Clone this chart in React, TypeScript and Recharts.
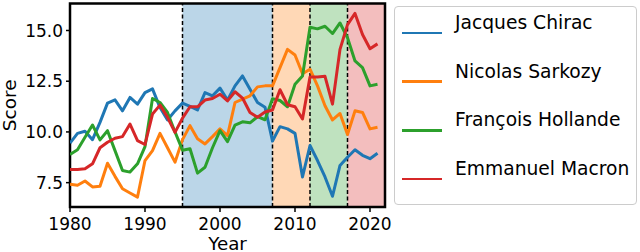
import {
  LineChart,
  Line,
  XAxis,
  YAxis,
  ReferenceArea,
  ReferenceLine,
  Legend,
} from 'recharts';

const years = [
  1980, 1981, 1982, 1983, 1984, 1985, 1986, 1987, 1988, 1989,
  1990, 1991, 1992, 1993, 1994, 1995, 1996, 1997, 1998, 1999,
  2000, 2001, 2002, 2003, 2004, 2005, 2006, 2007, 2008, 2009,
  2010, 2011, 2012, 2013, 2014, 2015, 2016, 2017, 2018, 2019,
  2020, 2021,
];

const chirac = [
  9.45, 9.93, 10.03, 9.62, 10.47, 11.42, 11.58, 11.04, 11.7, 11.37,
  11.94, 12.12, 11.2, 10.59, 11.04, 11.42, 11.26, 11.08, 11.94, 11.78,
  12.16, 11.57, 12.27, 12.76, 12.1, 11.45, 11.22, 9.55, 10.26, 10.15,
  9.93, 7.78, 9.33, 8.59, 7.78, 6.83, 8.35, 8.75, 9.12, 8.85,
  8.68, 8.95,
];

const sarkozy = [
  7.42, 7.37, 7.58, 7.29, 7.32, 8.46, 7.81, 7.2, 6.99, 6.79,
  8.59, 9.08, 9.93, 9.22, 8.51, 9.62, 10.31, 9.66, 9.41, 9.77,
  10.15, 9.82, 11.45, 11.62, 11.78, 12.22, 12.27, 12.27, 13.17, 14.07,
  13.79, 12.87, 13.09, 12.27, 11.29, 10.59, 10.91, 9.87, 11.04, 10.96,
  10.15, 10.23,
];

const hollande = [
  8.89, 9.12, 9.74, 10.34, 9.61, 10.06, 9.08, 8.1, 8.02, 8.43,
  9.28, 11.65, 11.45, 10.96, 10.0, 9.1, 9.17, 7.97, 8.26, 9.22,
  10.06, 9.52, 10.34, 10.5, 10.45, 10.75, 10.6, 11.64, 11.55, 11.24,
  12.35, 12.76, 15.16, 15.08, 15.21, 14.85, 15.37, 14.64, 13.5, 13.17,
  12.27, 12.35,
];

const macron = [
  8.15, 8.15, 8.18, 8.43, 9.22, 9.49, 9.69, 9.77, 10.39, 9.57,
  9.38, 10.88, 11.32, 10.72, 9.98, 10.68, 11.24, 11.24, 11.57, 11.65,
  11.86, 11.53, 11.98, 11.67, 10.96, 10.72, 10.98, 11.08, 12.08, 11.34,
  11.24, 10.64, 12.71, 12.71, 12.74, 11.37, 14.07, 15.29, 15.84, 14.8,
  14.1, 14.34,
];

const seriesNames = ['Jacques Chirac', 'Nicolas Sarkozy', 'François Hollande', 'Emmanuel Macron'];
const seriesKeys = ['chirac', 'sarkozy', 'hollande', 'macron'];
const seriesColors = ['#1f77b4', '#ff7f0e', '#2ca02c', '#d62728'];

// presidency periods (shaded spans)
const termStarts = [1995, 2007, 2012, 2017];
const termEnds = [2007, 2012, 2017, 2022];

const xTicks = [1980, 1990, 2000, 2010, 2020];
const yTicks = [7.5, 10, 12.5, 15];

const X_DOMAIN: [number, number] = [1980, 2022];
const Y_DOMAIN: [number, number] = [6.3, 16.33];

const data = years.map((year, i) => ({
  year,
  chirac: chirac[i],
  sarkozy: sarkozy[i],
  hollande: hollande[i],
  macron: macron[i],
}));

const font = '"DejaVu Sans", sans-serif';

const LegendBox = () => (
  <div
    style={{
      width: 243,
      height: 199,
      boxSizing: 'border-box',
      border: '1px solid #cccccc',
      borderRadius: 4,
      background: 'rgba(255,255,255,0.8)',
      position: 'relative',
      fontFamily: font,
      fontSize: 18.7,
      color: '#000',
    }}
  >
    {seriesNames.map((name, i) => (
      <div key={name}>
        <div
          style={{
            position: 'absolute',
            left: 7,
            top: 26 + i * 48.7 - 1.4,
            width: 40,
            height: 2.8,
            background: seriesColors[i],
          }}
        />
        <div
          style={{
            position: 'absolute',
            left: 60,
            top: 16 + i * 48.7 - 11,
            lineHeight: '22px',
            whiteSpace: 'nowrap',
          }}
        >
          {name}
        </div>
      </div>
    ))}
  </div>
);

export default function App() {
  return (
    <div style={{ position: 'absolute', left: 0, top: 0, width: 640, height: 252, background: '#fff' }}>
      <LineChart
        width={640}
        height={252}
        data={data}
        margin={{ top: 3.5, right: 255, bottom: 0, left: 0 }}
        style={{ fontFamily: font }}
      >
        <XAxis
          dataKey="year"
          type="number"
          domain={X_DOMAIN}
          ticks={xTicks}
          allowDataOverflow
          axisLine={false}
          tickLine={{ stroke: '#000', strokeWidth: 1.5 }}
          tickSize={5}
          tickMargin={6}
          tick={{ fill: '#000', fontSize: 17 }}
          height={45}
          label={{ value: 'Year', position: 'insideBottom', offset: 2.5, fill: '#000', fontSize: 18.3 }}
        />
        <YAxis
          type="number"
          domain={Y_DOMAIN}
          ticks={yTicks}
          allowDataOverflow
          axisLine={false}
          tickLine={{ stroke: '#000', strokeWidth: 1.5 }}
          tickSize={4}
          tickMargin={3}
          tick={{ fill: '#000', fontSize: 17 }}
          tickFormatter={(v: number) => v.toFixed(1)}
          width={70}
          label={{
            content: ({ viewBox }: any) => {
              const cx = viewBox.x + 9;
              const cy = viewBox.y + viewBox.height / 2;
              return (
                <text
                  x={cx}
                  y={cy}
                  transform={`rotate(-90 ${cx} ${cy})`}
                  textAnchor="middle"
                  dominantBaseline="central"
                  fill="#000"
                  fontSize={18.5}
                >
                  Score
                </text>
              );
            },
          }}
        />
        {termStarts.map((start, i) => (
          <ReferenceArea
            key={`span-${start}`}
            x1={start}
            x2={termEnds[i]}
            fill={seriesColors[i]}
            fillOpacity={0.3}
            stroke="none"
          />
        ))}
        {termStarts.map((start) => (
          <ReferenceLine
            key={`line-${start}`}
            x={start}
            stroke="#000"
            strokeWidth={1.5}
            strokeDasharray="4 2.5"
          />
        ))}
        {seriesKeys.map((key, i) => (
          <Line
            key={key}
            type="linear"
            dataKey={key}
            name={seriesNames[i]}
            stroke={seriesColors[i]}
            strokeWidth={3}
            strokeLinejoin="round"
            dot={false}
            activeDot={false}
            isAnimationActive={false}
          />
        ))}
        <ReferenceArea
          x1={X_DOMAIN[0]}
          x2={X_DOMAIN[1]}
          y1={Y_DOMAIN[0]}
          y2={Y_DOMAIN[1]}
          fill="none"
          stroke="#000"
          strokeWidth={2.5}
        />
        <Legend
          layout="vertical"
          align="center"
          verticalAlign="middle"
          wrapperStyle={{ left: 394, top: 6, width: 243, height: 199 }}
          content={() => <LegendBox />}
        />
      </LineChart>
    </div>
  );
}
